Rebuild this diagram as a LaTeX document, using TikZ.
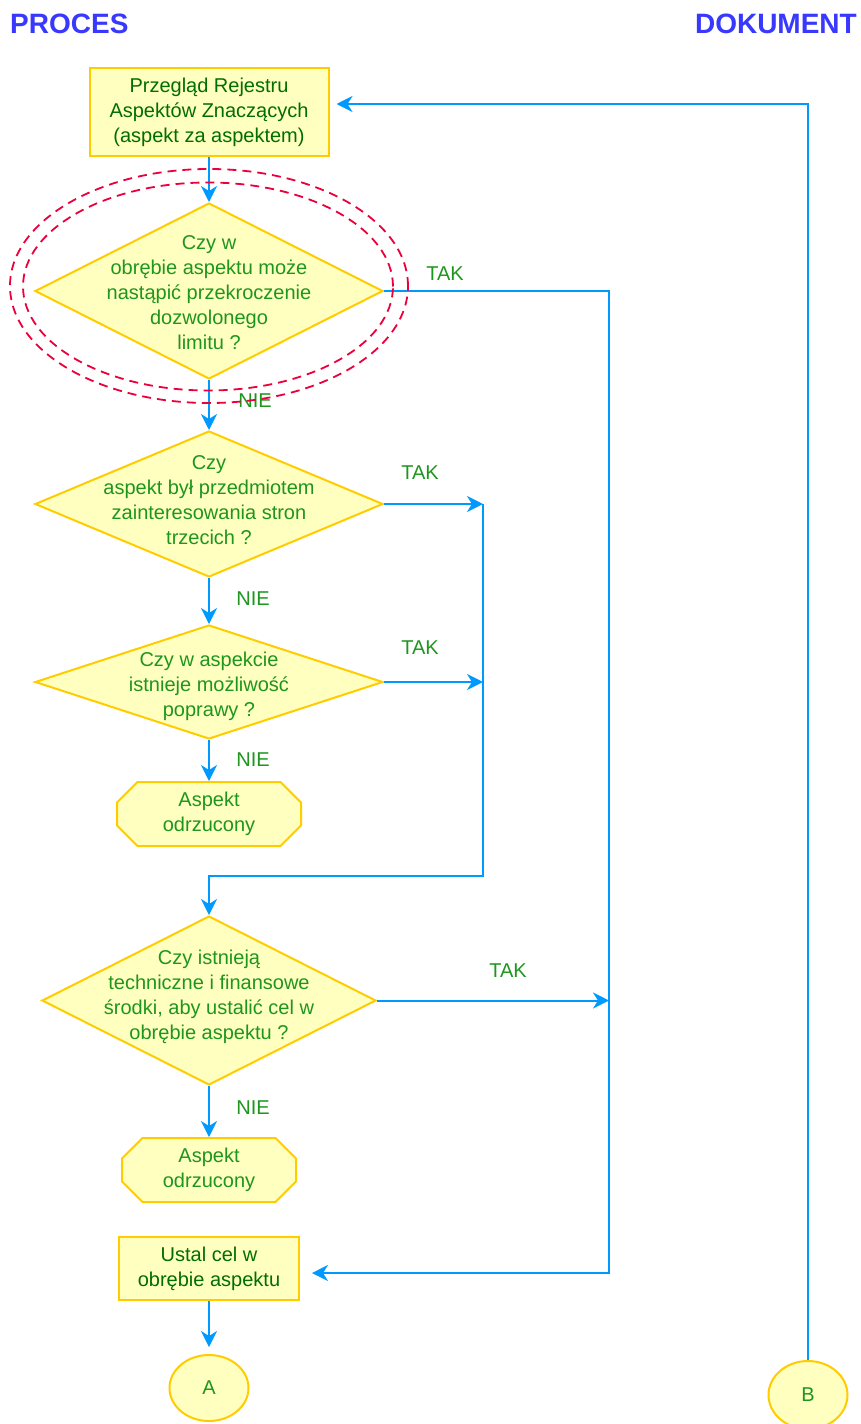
\documentclass[tikz,border=0pt]{standalone}
\usepackage{fontspec}
\setmainfont{Liberation Sans}
\usetikzlibrary{arrows.meta,shapes.geometric,shapes.misc,calc}
\definecolor{fillY}{RGB}{255,255,192}
\definecolor{bordY}{RGB}{255,204,0}
\definecolor{lineB}{RGB}{0,153,255}
\definecolor{txtG}{RGB}{30,150,30}
\definecolor{txtDG}{RGB}{0,110,0}
\definecolor{titleB}{RGB}{56,56,255}
\definecolor{redD}{RGB}{235,0,60}
\begin{document}
\begin{tikzpicture}[x=1pt,y=-1pt,
  txt/.style={font=\fontsize{20}{25}\selectfont, text=txtG, align=center, inner sep=0pt},
  procbox/.style={rectangle, draw=bordY, fill=fillY, line width=2pt, txt, text=txtDG},
  decision/.style={diamond, draw=bordY, fill=fillY, line width=2pt, inner sep=0pt},
  octo/.style={chamfered rectangle, chamfered rectangle xsep=17pt, chamfered rectangle angle=45, draw=bordY, fill=fillY, line width=2pt, txt},
  terminal/.style={ellipse, draw=bordY, fill=fillY, line width=2pt, txt},
  conn/.style={draw=lineB, line width=2pt},
  arr/.style={conn, -{Stealth[length=16pt,width=16pt,inset=5pt]}},
  lbl/.style={txt},
  title/.style={font=\fontsize{28}{32}\selectfont\bfseries, text=titleB, inner sep=0pt},
  ring/.style={ellipse, draw=redD, line width=1.8pt, dash pattern=on 9pt off 6pt, inner sep=0pt}
]
\useasboundingbox (0,0) rectangle (861,1424);

% titles
\node[title, anchor=west] (t1) at (10,24) {PROCES};
\node[title, anchor=east] (t2) at (857,24) {DOKUMENT};

% nodes
\node[procbox, minimum width=239, minimum height=88] (b1) at (209,112)
  {Przegląd Rejestru\\Aspektów Znaczących\\(aspekt za aspektem)};

\node[decision, minimum width=348, minimum height=176] (d1) at (209,291) {};
\node[txt] (d1t) at (209,293) {Czy w\\obrębie aspektu może\\nastąpić przekroczenie\\dozwolonego\\limitu ?};

\node[decision, minimum width=348, minimum height=146] (d2) at (209,504) {};
\node[txt] (d2t) at (209,500) {Czy\\aspekt był przedmiotem\\zainteresowania stron\\trzecich ?};

\node[decision, minimum width=348, minimum height=114] (d3) at (209,682) {};
\node[txt] (d3t) at (209,686) {Czy w aspekcie\\istnieje możliwość\\poprawy ?};

\node[octo, minimum width=184, minimum height=64] (o1) at (209,814) {Aspekt\\odrzucony};

\node[decision, minimum width=334, minimum height=169] (d4) at (209,1000.5) {};
\node[txt] (d4t) at (209,997) {Czy istnieją\\techniczne i finansowe\\środki, aby ustalić cel w\\obrębie aspektu ?};

\node[octo, minimum width=174, minimum height=64] (o2) at (209,1170) {Aspekt\\odrzucony};

\node[procbox, minimum width=180, minimum height=63] (ub) at (209,1268.5)
  {Ustal cel w\\obrębie aspektu};

\node[terminal, minimum width=79, minimum height=66] (A) at (209,1388) {A};
\node[terminal, minimum width=79, minimum height=68] (B) at (808,1395) {B};

% helper coordinates
\coordinate (r1) at (609,291);
\coordinate (r2) at (609,1273);
\coordinate (m1) at (483,504);
\coordinate (m3) at (483,876);
\coordinate (m4) at (209,876);
\coordinate (bt) at (808,104);

% connectors
\draw[arr] (b1.south) -- (d1.north);
\draw[arr] (d1.south) -- (d2.north);
\draw[arr] (d2.south) -- (d3.north);
\draw[arr] (d3.south) -- (o1.north);
\draw[arr] (d4.south) -- (o2.north);
\draw[arr, shorten >=7pt] (ub.south) -- (A.north);

\draw[arr, shorten >=12pt] (d1.east) -- (r1) -- (r2) -- (r2 -| ub.east);
\draw[arr] (d2.east) -- (m1);
\draw[arr] (d3.east) -- (d3.east -| m1);
\draw[arr] (m1) -- (m3) -- (m4) -- (d4.north);
\draw[arr] (d4.east) -- (d4.east -| r1);
\draw[arr, shorten >=7pt] (B.north) -- (bt) -- (bt -| b1.east);

% labels
\node[lbl] (l1) at (445,274) {TAK};
\node[lbl] (l2) at (420,473) {TAK};
\node[lbl] (l3) at (420,648) {TAK};
\node[lbl] (l4) at (508,971) {TAK};
\node[lbl] (n1) at (255,401) {NIE};
\node[lbl] (n2) at (253,599) {NIE};
\node[lbl] (n3) at (253,760) {NIE};
\node[lbl] (n4) at (253,1108) {NIE};

% dashed highlight rings
\node[ring, minimum width=398, minimum height=234] (e1) at (209,286) {};
\node[ring, minimum width=370, minimum height=208] (e2) at (208,286.5) {};
\end{tikzpicture}
\end{document}
